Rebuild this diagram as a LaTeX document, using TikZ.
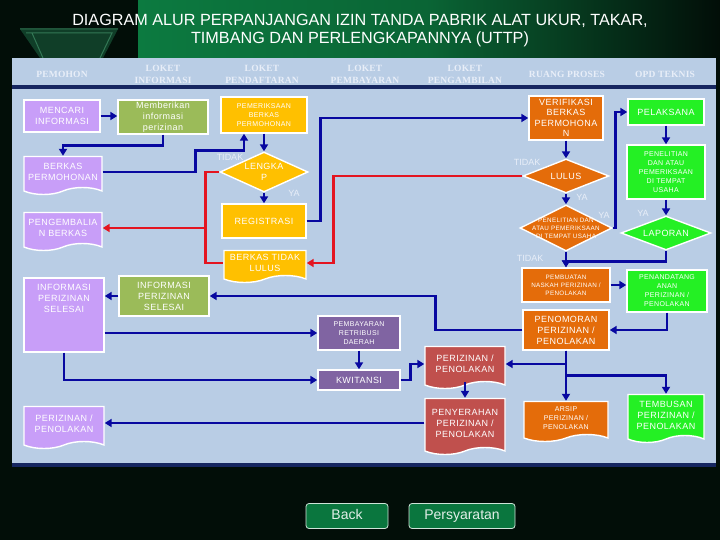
\documentclass[tikz,border=0pt]{standalone}
\usepackage{fontspec}
\setmainfont{Liberation Sans}
\newfontfamily\boxfont[LetterSpace=5]{Liberation Sans}
\newfontfamily\headfont[LetterSpace=2]{Liberation Serif}
\usetikzlibrary{arrows.meta, calc, shapes.geometric, shapes.symbols}

\definecolor{bgdark}{RGB}{2,14,8}
\definecolor{titlegreen}{RGB}{12,122,64}
\definecolor{sidegreen}{RGB}{8,100,52}
\definecolor{gemgreen}{RGB}{16,62,40}
\definecolor{gemedge}{RGB}{50,120,85}
\definecolor{panelblue}{RGB}{185,205,229}
\definecolor{navyline}{RGB}{22,38,96}
\definecolor{headtext}{RGB}{232,238,248}
\definecolor{lav}{RGB}{200,158,248}
\definecolor{olive}{RGB}{155,187,89}
\definecolor{gold}{RGB}{255,192,0}
\definecolor{orng}{RGB}{228,108,10}
\definecolor{lime}{RGB}{36,240,36}
\definecolor{plum}{RGB}{128,100,162}
\definecolor{brick}{RGB}{192,80,77}
\definecolor{flowblue}{RGB}{8,8,160}
\definecolor{flowred}{RGB}{228,20,32}
\definecolor{btngreen}{RGB}{10,118,62}

\begin{document}
\begin{tikzpicture}[x=1pt, y=-1pt]
        \tikzstyle{box}=[draw=white, line width=1.4pt, text=white, align=center, inner sep=1pt, font=\boxfont\fontsize{9}{11}\selectfont]
        \tikzstyle{small text}=[font=\boxfont\fontsize{7}{9}\selectfont]
        \tikzstyle{tiny text}=[font=\boxfont\fontsize{6.3}{8}\selectfont]
        \tikzstyle{doc}=[box, tape, tape bend top=none, tape bend height=7pt]
        \tikzstyle{cek}=[box, diamond, inner sep=0pt]
        \tikzstyle{cek text}=[text=white, align=center, inner sep=0pt, font=\boxfont\fontsize{9}{11}\selectfont]
        \tikzstyle{flow}=[draw=flowblue, line width=2.6pt, -{Triangle[length=7pt,width=8pt]}]
        \tikzstyle{red line}=[draw=flowred, line width=2.6pt]
        \tikzstyle{red flow}=[red line, -{Triangle[length=7pt,width=8pt]}]
        \tikzstyle{lbl}=[text=headtext, font=\fontsize{9}{10}\selectfont]
        \tikzstyle{head}=[text=headtext, align=center, font=\headfont\bfseries\fontsize{9.5}{12}\selectfont]
        \tikzstyle{button}=[draw=white!80!btngreen, fill=btngreen, line width=0.8pt, rounded corners=3pt, text=white!88!btngreen, text height=10pt, text depth=3pt, font=\fontsize{14}{16}\selectfont]
        \useasboundingbox (0,0) rectangle (720,540);
        \fill[bgdark] (0,0) rectangle (720,540);
        \shade[top color=bgdark, middle color=sidegreen, bottom color=bgdark] (0,30) rectangle (138,540);
        \shade[left color=titlegreen, right color=bgdark, middle color=titlegreen!80!bgdark] (138,0) rectangle (720,58);
        \fill[gemgreen] (20,29) -- (118,29) -- (103,58) -- (40,58) -- cycle;
        \draw[gemedge, line width=1pt] (20,29) -- (118,29) (26,33) -- (112,33) -- (100,58) (32,33) -- (43,58);
        \node[text=white, align=center, font=\fontsize{16.2}{18}\selectfont] (title) at (360,31) {DIAGRAM ALUR PERPANJANGAN IZIN TANDA PABRIK ALAT UKUR, TAKAR,\\TIMBANG DAN PERLENGKAPANNYA (UTTP)};
        \fill[panelblue] (12,58) rectangle (716,467);
        \fill[navyline] (12,85) rectangle (716,89);
        \fill[navyline] (12,463) rectangle (716,467);
        \node[head] (h1) at (62,74) {PEMOHON};
        \node[head] (h2) at (163,74) {LOKET\\INFORMASI};
        \node[head] (h3) at (262,74) {LOKET\\PENDAFTARAN};
        \node[head] (h4) at (365,74) {LOKET\\PEMBAYARAN};
        \node[head] (h5) at (465,74) {LOKET\\PENGAMBILAN};
        \node[head] (h6) at (567,74) {RUANG PROSES};
        \node[head] (h7) at (665,74) {OPD TEKNIS};

        \node[box, fill=lav, minimum width=76pt, minimum height=32pt] (cari) at (62,116) {MENCARI\\INFORMASI};
        \node[box, fill=olive, minimum width=90pt, minimum height=34pt] (beri) at (163,117) {Memberikan\\informasi\\perizinan};
        \node[box, fill=gold, minimum width=86pt, minimum height=36pt, small text] (periksa) at (264,115) {PEMERIKSAAN\\BERKAS\\PERMOHONAN};
        \node[doc, fill=lav, minimum width=78pt, minimum height=38pt] (berkas) at (63,172) {BERKAS\\PERMOHONAN};
        \node[cek, fill=gold, minimum width=88pt, minimum height=40pt, label={[cek text]center:LENGKA\\P}] (lengkap) at (264,172) {};
        \node[doc, fill=lav, minimum width=78pt, minimum height=38pt] (kembali) at (63,228) {PENGEMBALIA\\N BERKAS};
        \node[box, fill=gold, minimum width=84pt, minimum height=34pt] (registrasi) at (264,221) {REGISTRASI};
        \node[doc, fill=gold, minimum width=82pt, minimum height=32pt] (tdklulus) at (265,263) {BERKAS TIDAK\\LULUS};
        \node[box, fill=lav, minimum width=80pt, minimum height=74pt, label={[box, draw=none, anchor=north, yshift=-5pt]north:INFORMASI\\PERIZINAN\\SELESAI}] (infoA) at (64,315) {};
        \node[box, fill=olive, minimum width=90pt, minimum height=40pt] (infoB) at (164,296) {INFORMASI\\PERIZINAN\\SELESAI};
        \node[box, fill=plum, minimum width=82pt, minimum height=34pt, small text] (bayar) at (359,333) {PEMBAYARAN\\RETRIBUSI\\DAERAH};
        \node[box, fill=plum, minimum width=82pt, minimum height=20pt] (kwitansi) at (359,380) {KWITANSI};
        \node[doc, fill=brick, minimum width=80pt, minimum height=42pt] (izinA) at (465,364) {PERIZINAN /\\PENOLAKAN};
        \node[doc, fill=brick, minimum width=80pt, minimum height=56pt] (serah) at (465,423) {PENYERAHAN\\PERIZINAN /\\PENOLAKAN};
        \node[doc, fill=lav, minimum width=80pt, minimum height=42pt] (izinB) at (64,424) {PERIZINAN /\\PENOLAKAN};
        \node[box, fill=orng, minimum width=74pt, minimum height=44pt, font=\boxfont\fontsize{9}{10.5}\selectfont] (verif) at (566,118) {VERIFIKASI\\BERKAS\\PERMOHONA\\N};
        \node[cek, fill=orng, minimum width=86pt, minimum height=34pt, label={[cek text]center:LULUS}] (lulus) at (566,176) {};
        \node[cek, fill=orng, minimum width=92pt, minimum height=46pt, label={[cek text, tiny text]center:PENELITIAN DAN\\ATAU PEMERIKSAAN\\DI TEMPAT USAHA}] (telitiA) at (566,228) {};
        \node[box, fill=lime, minimum width=76pt, minimum height=26pt] (laksana) at (666,112) {PELAKSANA};
        \node[box, fill=lime, minimum width=78pt, minimum height=54pt, small text] (telitiB) at (666,172) {PENELITIAN\\DAN ATAU\\PEMERIKSAAN\\DI TEMPAT\\USAHA};
        \node[cek, fill=lime, minimum width=90pt, minimum height=34pt, label={[cek text]center:LAPORAN}] (lapor) at (666,233) {};
        \node[box, fill=orng, minimum width=88pt, minimum height=34pt, tiny text] (buat) at (566,285) {PEMBUATAN\\NASKAH PERIZINAN /\\PENOLAKAN};
        \node[box, fill=lime, minimum width=80pt, minimum height=42pt, small text] (tanda) at (667,291) {PENANDATANG\\ANAN\\PERIZINAN /\\PENOLAKAN};
        \node[box, fill=orng, minimum width=86pt, minimum height=40pt] (nomor) at (566,330) {PENOMORAN\\PERIZINAN /\\PENOLAKAN};
        \node[doc, fill=orng, minimum width=84pt, minimum height=40pt, small text] (arsip) at (566,418) {ARSIP\\PERIZINAN /\\PENOLAKAN};
        \node[doc, fill=lime, minimum width=76pt, minimum height=48pt] (tembusan) at (666,415) {TEMBUSAN\\PERIZINAN /\\PENOLAKAN};

        \node[lbl] (t1) at (230,157) {TIDAK};
        \node[lbl] (y1) at (294,193) {YA};
        \node[lbl] (t2) at (527,162) {TIDAK};
        \node[lbl] (y2) at (582,197) {YA};
        \node[lbl] (y3) at (604,215) {YA};
        \node[lbl] (y4) at (643,213) {YA};
        \node[lbl] (t3) at (530,258) {TIDAK};

        \draw[flow] (cari.east) -- (cari.east -| beri.west);
        \draw[flow] (beri.south) -- ++(0,11) -| (berkas.north);
        \draw[flow] (berkas.east) -- ++(93,0) |- ([xshift=-20pt,yshift=-17pt]periksa.south) -- ([xshift=-20pt]periksa.south);
        \draw[flow] (periksa.south) -- (lengkap.north);
        \draw[flow] (lengkap.south) -- (registrasi.north);
        \draw[red line] (lengkap.west) -- ++(-14,0) coordinate (rj) |- (tdklulus.west);
        \draw[red flow] (rj |- kembali.east) -- (kembali.east);
        \draw[flow] (registrasi.east) -- ++(14,0) |- (verif.west);
        \draw[red flow] (lulus.west) -- ++(-189,0) |- (tdklulus.east);
        \draw[flow] (verif.south) -- (lulus.north);
        \draw[flow] (lulus.south) -- (telitiA.north);
        \draw[flow] (telitiA.east) -- ++(3,0) |- (laksana.west);
        \draw[flow] (laksana.south) -- (telitiB.north);
        \draw[flow] (telitiB.south) -- (lapor.north);
        \draw[flow] (lapor.south) |- ([yshift=6pt]buat.north) -- (buat.north);
        \draw[flow] (telitiA.south) -- (buat.north);
        \draw[flow] (buat.east) -- (buat.east -| tanda.west);
        \draw[flow] (tanda.south) |- (nomor.east);
        \draw[flow] (nomor.west) -- ++(-87,0) |- (infoB.east);
        \draw[flow] (nomor.south) |- (izinA.east);
        \draw[flow] (nomor.south) -- (arsip.north);
        \draw[flow] ([yshift=-25pt]nomor.south) -| (tembusan.north);
        \draw[flow] (infoB.west) -- (infoB.west -| infoA.east);
        \draw[flow] (infoA.east |- bayar.west) -- (bayar.west);
        \draw[flow] (infoA.south) |- (kwitansi.west);
        \draw[flow] (bayar.south) -- (kwitansi.north);
        \draw[flow] (kwitansi.east) -- ++(10,0) |- (izinA.west);
        \draw[flow] (izinA.south) -- (serah.north);
        \draw[flow] (serah.west) -- (serah.west -| izinB.east);

        \node[button, minimum width=82pt, minimum height=25pt] (back) at (347,516) {Back};
        \node[button, minimum width=106pt, minimum height=25pt] (syarat) at (462,516) {Persyaratan};
    \end{tikzpicture}
\end{document}
